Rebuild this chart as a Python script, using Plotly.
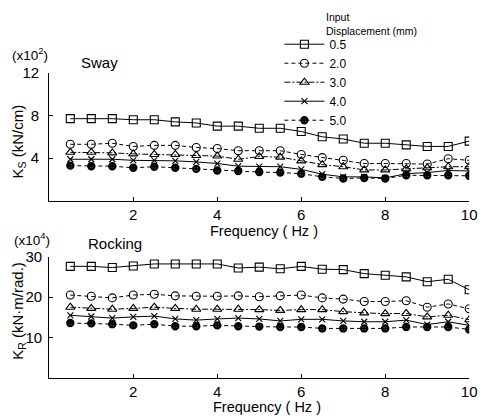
import plotly.graph_objects as go

freq = [0.5, 1.0, 1.5, 2.0, 2.5, 3.0, 3.5, 4.0, 4.5, 5.0,
        5.5, 6.0, 6.5, 7.0, 7.5, 8.0, 8.5, 9.0, 9.5, 10.0]

disp_labels = ["0.5", "2.0", "3.0", "4.0", "5.0"]

# Sway stiffness K_S (x10^2 kN/cm)
sway_05 = [7.7, 7.7, 7.7, 7.6, 7.6, 7.4, 7.3, 7.0, 7.0, 6.8, 6.8, 6.5, 6.0, 5.8, 5.4, 5.4, 5.25, 5.1, 5.1, 5.6]
sway_20 = [5.3, 5.3, 5.4, 5.1, 5.2, 5.2, 5.0, 4.9, 4.7, 4.7, 4.7, 4.35, 4.05, 3.8, 3.5, 3.5, 3.5, 3.45, 3.95, 3.8]
sway_30 = [4.55, 4.55, 4.5, 4.4, 4.35, 4.35, 4.25, 4.2, 3.9, 4.15, 4.1, 3.75, 3.4, 3.2, 2.9, 2.9, 3.0, 3.1, 3.2, 3.2]
sway_40 = [3.9, 3.9, 3.9, 3.8, 3.8, 3.75, 3.65, 3.5, 3.25, 3.2, 3.2, 2.95, 2.5, 2.25, 2.25, 2.15, 2.55, 2.65, 2.85, 2.8]
sway_50 = [3.3, 3.25, 3.25, 3.1, 3.2, 3.1, 3.0, 2.85, 2.8, 2.7, 2.65, 2.55, 2.25, 2.1, 2.15, 2.1, 2.4, 2.4, 2.4, 2.35]

# Rocking stiffness K_R (x10^4 kN.m/rad.)
rock_05 = [27.6, 27.6, 27.3, 27.7, 28.2, 28.2, 28.2, 28.2, 27.2, 27.4, 27.0, 27.6, 26.9, 26.8, 25.8, 25.4, 25.0, 23.8, 24.4, 21.8]
rock_20 = [20.5, 20.2, 19.8, 20.5, 20.7, 20.3, 20.2, 20.2, 20.3, 20.1, 20.3, 20.5, 19.8, 19.5, 18.9, 18.9, 19.1, 17.5, 18.3, 17.1]
rock_30 = [17.5, 17.2, 17.0, 17.2, 17.5, 17.2, 17.0, 17.0, 17.0, 16.9, 16.7, 16.9, 16.9, 16.4, 16.1, 15.9, 15.95, 15.1, 15.5, 14.4]
rock_40 = [15.5, 15.2, 14.8, 15.1, 15.3, 14.6, 14.3, 14.6, 14.8, 14.6, 14.1, 14.5, 14.5, 14.1, 13.9, 13.9, 14.3, 13.2, 13.9, 13.0]
rock_50 = [13.6, 13.5, 13.3, 13.0, 13.3, 12.8, 12.8, 13.0, 12.8, 12.7, 12.6, 12.6, 12.25, 12.25, 12.25, 12.25, 12.6, 12.6, 12.6, 12.0]

sway_series = [sway_05, sway_20, sway_30, sway_40, sway_50]
rock_series = [rock_05, rock_20, rock_30, rock_40, rock_50]

styles = [
    dict(dash="solid", symbol="square-open", size=8),
    dict(dash="4px,3px", symbol="circle-open", size=8),
    dict(dash="6px,2px,2px,2px", symbol="triangle-up-open", size=8),
    dict(dash="solid", symbol="x-thin-open", size=6),
    dict(dash="4px,3px", symbol="circle-open-dot", size=6),
]

# page body has an 8px margin: figure drawn 8px right/down of window origin
OFF = 8
W, H = 490 - OFF, 420 - OFF
FONT = "Liberation Sans"


def px(x):
    return (x - OFF) / W


def py(y):
    return 1 - (y - OFF) / H


fig = go.Figure()
for i, (lab, st) in enumerate(zip(disp_labels, styles)):
    mk = dict(symbol=st["symbol"], size=st["size"], color="black",
              line=dict(color="black", width=2.4 if i == 4 else 1.1))
    fig.add_trace(go.Scatter(x=freq, y=sway_series[i], mode="lines+markers", name=lab,
                             line=dict(color="black", width=1.0, dash=st["dash"]),
                             marker=mk, xaxis="x", yaxis="y", showlegend=True))
    fig.add_trace(go.Scatter(x=freq, y=rock_series[i], mode="lines+markers", name=lab,
                             line=dict(color="black", width=1.0, dash=st["dash"]),
                             marker=mk, xaxis="x2", yaxis="y2", showlegend=False))

axis_common = dict(showline=True, linecolor="black", linewidth=1.3, ticks="inside",
                   ticklen=4, tickcolor="black", showgrid=False, zeroline=False,
                   tickfont=dict(family=FONT, size=15, color="black"))

xdom = [px(50), px(477)]
fig.update_layout(
    width=W, height=H,
    margin=dict(l=0, r=0, t=0, b=0),
    paper_bgcolor="white", plot_bgcolor="white",
    font=dict(family=FONT, color="black"),
    xaxis=dict(domain=xdom, range=[0, 10], tickvals=[2, 4, 6, 8, 10], anchor="y", **axis_common),
    yaxis=dict(domain=[py(196), py(65)], range=[0, 12], tickvals=[4, 8, 12], anchor="x",
               ticklabelstandoff=6, **axis_common),
    xaxis2=dict(domain=xdom, range=[0, 10], tickvals=[2, 4, 6, 8, 10], anchor="y2", **axis_common),
    yaxis2=dict(domain=[py(377), py(253)], range=[0, 30], tickvals=[10, 20, 30], anchor="x2",
                ticklabelstandoff=3, **axis_common),
    legend=dict(x=px(284), y=py(21), xanchor="left", yanchor="top", bgcolor="rgba(0,0,0,0)",
                font=dict(family=FONT, size=12), itemwidth=40, tracegroupgap=0),
)

ann = [
    dict(text="(x10<sup>2</sup>)", x=10, y=46, xanchor="left", size=13.5),
    dict(text="Sway", x=80, y=55, xanchor="left", size=15),
    dict(text="Frequency ( Hz )", x=268, y=227, xanchor="center", size=14.5),
    dict(text="(x10<sup>4</sup>)", x=12, y=235, xanchor="left", size=13.5),
    dict(text="Rocking", x=87, y=240, xanchor="left", size=15),
    dict(text="Frequency ( Hz )", x=271, y=407, xanchor="center", size=14.5),
    dict(text="Input<br>Displacement (mm)", x=329, y=15, xanchor="left", size=10.5),
]
for a in ann:
    fig.add_annotation(text=a["text"], x=px(a["x"]), y=py(a["y"]), xref="paper", yref="paper",
                       xanchor=a["xanchor"], yanchor="middle", showarrow=False, align="left",
                       font=dict(family=FONT, size=a["size"], color="black"))

fig.add_annotation(text="K<sub>S</sub> (kN/cm)", x=px(18.5), y=py(135), xref="paper", yref="paper",
                   textangle=-90, showarrow=False, xanchor="center", yanchor="middle",
                   font=dict(family=FONT, size=15, color="black"))
fig.add_annotation(text="K<sub>R</sub> (kN·m/rad.)", x=px(18.5), y=py(308), xref="paper", yref="paper",
                   textangle=-90, showarrow=False, xanchor="center", yanchor="middle",
                   font=dict(family=FONT, size=15, color="black"))

fig.write_html("out.html")
